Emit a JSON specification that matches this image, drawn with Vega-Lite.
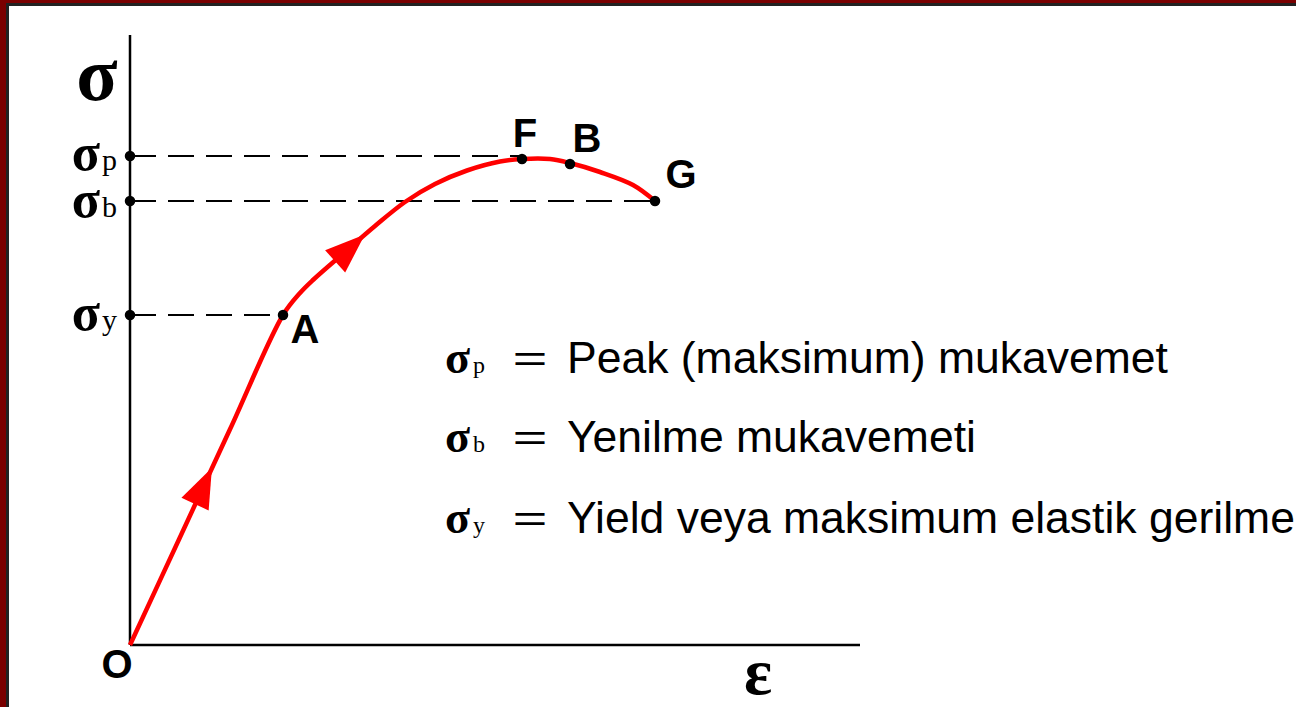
{
  "$schema": "https://vega.github.io/schema/vega-lite/v6.json",
  "width": 1296,
  "height": 707,
  "autosize": {"type": "fit", "contains": "padding"},
  "padding": {"left": 7.5, "top": 4.5, "right": -3, "bottom": -3},
  "background": "#7a0000",
  "config": {
    "view": {"fill": "#ffffff", "stroke": "#222222", "strokeWidth": 3},
    "text": {"color": "#000000"}
  },
  "datasets": {
    "axes": [
      {"e": 0, "s": 0, "e2": 0, "s2": 6.1},
      {"e": 0, "s": 0, "e2": 7.3, "s2": 0}
    ],
    "guides": [
      {"name": "p", "e": 0, "s": 4.89, "e2": 3.92, "s2": 4.89},
      {"name": "b", "e": 0, "s": 4.44, "e2": 5.25, "s2": 4.44},
      {"name": "y", "e": 0, "s": 3.30, "e2": 1.53, "s2": 3.30}
    ],
    "curve": [
      {"i": 0, "e": 0.00, "s": 0.00},
      {"i": 1, "e": 0.50, "s": 1.078},
      {"i": 2, "e": 1.00, "s": 2.157},
      {"i": 3, "e": 1.53, "s": 3.30},
      {"i": 4, "e": 1.70, "s": 3.52},
      {"i": 5, "e": 1.83, "s": 3.65},
      {"i": 6, "e": 2.15, "s": 3.93},
      {"i": 7, "e": 2.45, "s": 4.19},
      {"i": 8, "e": 2.75, "s": 4.43},
      {"i": 9, "e": 3.05, "s": 4.61},
      {"i": 10, "e": 3.37, "s": 4.745},
      {"i": 11, "e": 3.70, "s": 4.835},
      {"i": 12, "e": 3.92, "s": 4.86},
      {"i": 13, "e": 4.20, "s": 4.86},
      {"i": 14, "e": 4.40, "s": 4.82},
      {"i": 15, "e": 4.70, "s": 4.73},
      {"i": 16, "e": 5.03, "s": 4.60},
      {"i": 17, "e": 5.25, "s": 4.44}
    ],
    "arrows": [
      {"e": 0.735, "s": 1.59, "angle": 25},
      {"e": 2.20, "s": 3.97, "angle": 48}
    ],
    "dots": [
      {"name": "σp", "e": 0, "s": 4.89},
      {"name": "σb", "e": 0, "s": 4.44},
      {"name": "σy", "e": 0, "s": 3.30},
      {"name": "A", "e": 1.53, "s": 3.30},
      {"name": "F", "e": 3.92, "s": 4.86},
      {"name": "B", "e": 4.40, "s": 4.81},
      {"name": "G", "e": 5.25, "s": 4.44}
    ],
    "letters": [
      {"t": "F", "e": 3.95, "s": 4.98},
      {"t": "B", "e": 4.57, "s": 4.93},
      {"t": "G", "e": 5.51, "s": 4.57},
      {"t": "A", "e": 1.75, "s": 3.02},
      {"t": "O", "e": -0.13, "s": -0.33}
    ],
    "axisSigma": [
      {"t": "σ", "sub": "p", "e": -0.30, "s": 4.75},
      {"t": "σ", "sub": "b", "e": -0.30, "s": 4.28},
      {"t": "σ", "sub": "y", "e": -0.30, "s": 3.15}
    ],
    "legend": [
      {"sub": "p", "t": "Peak (maksimum) mukavemet", "s": 2.72},
      {"sub": "b", "t": "Yenilme mukavemeti", "s": 1.93},
      {"sub": "y", "t": "Yield veya maksimum elastik gerilme", "s": 1.12}
    ]
  },
  "layer": [
    {
      "data": {"name": "axes"},
      "mark": {"type": "rule", "color": "#000000", "strokeWidth": 2.5},
      "encoding": {
        "x": {"field": "e", "type": "quantitative", "scale": {"domain": [-1.225, 11.69], "nice": false, "zero": false}, "axis": null},
        "y": {"field": "s", "type": "quantitative", "scale": {"domain": [-0.65, 6.405], "nice": false, "zero": false}, "axis": null},
        "x2": {"field": "e2"},
        "y2": {"field": "s2"}
      }
    },
    {
      "data": {"name": "guides"},
      "mark": {"type": "rule", "color": "#000000", "strokeWidth": 1.8, "strokeDash": [26, 12]},
      "encoding": {
        "x": {"field": "e", "type": "quantitative"},
        "y": {"field": "s", "type": "quantitative"},
        "x2": {"field": "e2"},
        "y2": {"field": "s2"}
      }
    },
    {
      "data": {"name": "curve"},
      "mark": {"type": "line", "color": "#ff0000", "strokeWidth": 4.5, "interpolate": "catmull-rom"},
      "encoding": {
        "x": {"field": "e", "type": "quantitative"},
        "y": {"field": "s", "type": "quantitative"},
        "order": {"field": "i"}
      }
    },
    {
      "data": {"name": "arrows"},
      "mark": {"type": "point", "shape": "M0,-1L0.75,1L-0.75,1Z", "filled": true, "color": "#ff0000", "opacity": 1, "size": 1600},
      "encoding": {
        "x": {"field": "e", "type": "quantitative"},
        "y": {"field": "s", "type": "quantitative"},
        "angle": {"field": "angle", "type": "quantitative", "scale": {"domain": [0, 360], "range": [0, 360]}}
      }
    },
    {
      "data": {"name": "dots"},
      "mark": {"type": "point", "shape": "circle", "filled": true, "color": "#000000", "opacity": 1, "size": 110},
      "encoding": {
        "x": {"field": "e", "type": "quantitative"},
        "y": {"field": "s", "type": "quantitative"}
      }
    },
    {
      "data": {"name": "letters"},
      "mark": {"type": "text", "font": "Liberation Sans", "fontWeight": "bold", "fontSize": 40, "align": "center", "baseline": "alphabetic"},
      "encoding": {
        "x": {"field": "e", "type": "quantitative"},
        "y": {"field": "s", "type": "quantitative"},
        "text": {"field": "t"}
      }
    },
    {
      "data": {"values": [{"t": "σ", "e": -0.33, "s": 5.45, "size": 76}, {"t": "ε", "e": 6.28, "s": -0.49, "size": 66}]},
      "mark": {"type": "text", "font": "Liberation Serif", "fontWeight": "bold", "align": "center", "baseline": "alphabetic"},
      "encoding": {
        "x": {"field": "e", "type": "quantitative"},
        "y": {"field": "s", "type": "quantitative"},
        "text": {"field": "t"},
        "size": {"field": "size", "type": "quantitative", "scale": null}
      }
    },
    {
      "data": {"name": "axisSigma"},
      "mark": {"type": "text", "font": "Liberation Serif", "fontWeight": "bold", "fontSize": 52, "align": "right", "baseline": "alphabetic"},
      "encoding": {
        "x": {"field": "e", "type": "quantitative"},
        "y": {"field": "s", "type": "quantitative"},
        "text": {"field": "t"}
      }
    },
    {
      "data": {"name": "axisSigma"},
      "mark": {"type": "text", "font": "Liberation Serif", "fontSize": 30, "align": "left", "baseline": "alphabetic", "dx": 2},
      "encoding": {
        "x": {"field": "e", "type": "quantitative"},
        "y": {"field": "s", "type": "quantitative"},
        "text": {"field": "sub"}
      }
    },
    {
      "data": {"name": "legend"},
      "mark": {"type": "text", "font": "Liberation Serif", "fontWeight": "bold", "fontSize": 46, "align": "left", "baseline": "alphabetic"},
      "encoding": {
        "x": {"datum": 3.15, "type": "quantitative"},
        "y": {"field": "s", "type": "quantitative"},
        "text": {"value": "σ"}
      }
    },
    {
      "data": {"name": "legend"},
      "mark": {"type": "text", "font": "Liberation Serif", "fontSize": 24, "align": "left", "baseline": "alphabetic", "dx": -2},
      "encoding": {
        "x": {"datum": 3.45, "type": "quantitative"},
        "y": {"field": "s", "type": "quantitative"},
        "text": {"field": "sub"}
      }
    },
    {
      "data": {"name": "legend"},
      "mark": {"type": "text", "font": "Noto Sans CJK SC", "fontSize": 40, "align": "center", "baseline": "alphabetic", "dy": 1},
      "encoding": {
        "x": {"datum": 4.00, "type": "quantitative"},
        "y": {"field": "s", "type": "quantitative"},
        "text": {"value": "＝"}
      }
    },
    {
      "data": {"name": "legend"},
      "mark": {"type": "text", "font": "Liberation Sans", "fontSize": 44.5, "align": "left", "baseline": "alphabetic"},
      "encoding": {
        "x": {"datum": 4.37, "type": "quantitative"},
        "y": {"field": "s", "type": "quantitative"},
        "text": {"field": "t"}
      }
    }
  ]
}
